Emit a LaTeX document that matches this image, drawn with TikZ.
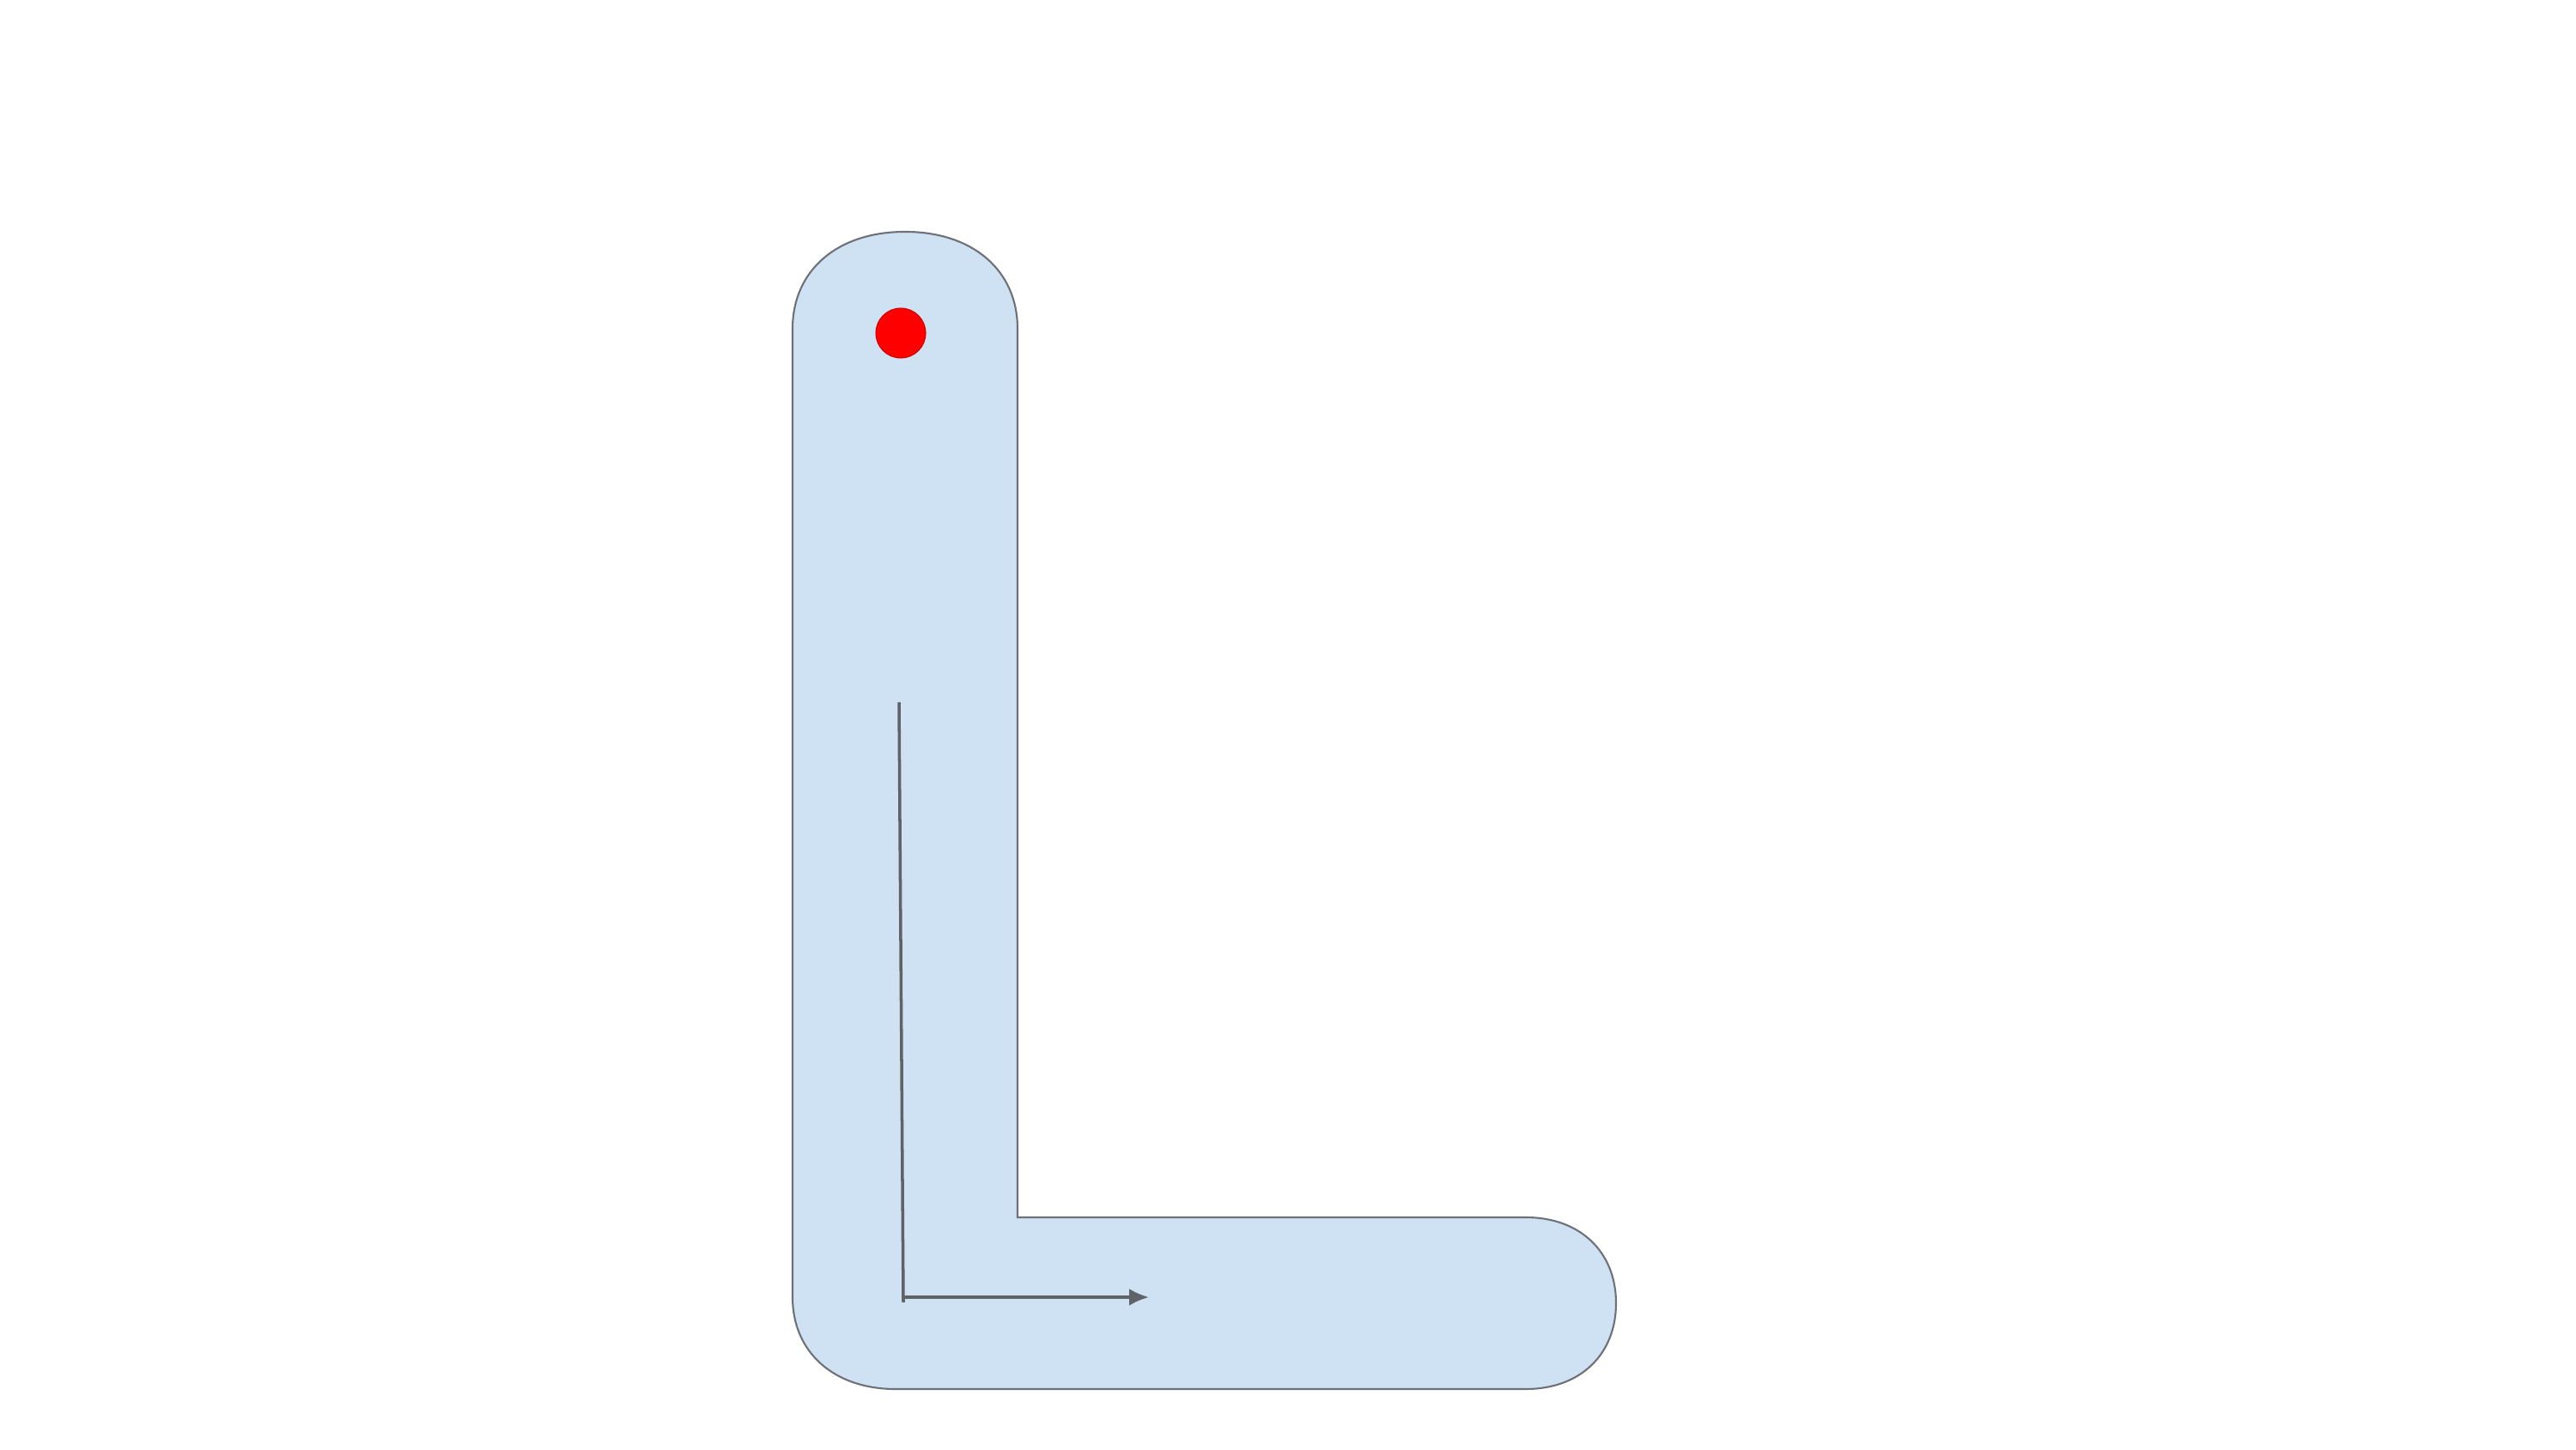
\documentclass[tikz,border=0pt]{standalone}
\usepackage{xcolor}
\definecolor{lfill}{RGB}{207,226,243}
\definecolor{lline}{RGB}{110,114,120}
\definecolor{arrowgray}{RGB}{95,99,104}
\usepackage{tikz}
\usetikzlibrary{positioning,arrows.meta}
\tikzset{
  lshape/.style  ={draw=lline,fill=lfill,line width=0.6pt},
  startdot/.style={circle,draw=red!80!black,fill=red,line width=0.3pt,
                   minimum size=5.8mm,inner sep=0pt},
  stroke/.style  ={draw=arrowgray,line width=1pt},
  flow/.style    ={-{Latex[length=2.3mm,width=2mm]},draw=arrowgray,line width=1pt},
}
\begin{document}
\begin{tikzpicture}
  \useasboundingbox (0,0) rectangle (30,16.88);
  % letter body
  \draw[lshape] (11.85,2.70) -- (17.77,2.70)
    .. controls (18.40,2.70) and (18.82,2.30) .. (18.82,1.70)
    .. controls (18.82,1.10) and (18.40,0.70) .. (17.77,0.70)
    -- (10.43,0.70)
    .. controls (9.71,0.70) and (9.23,1.13) .. (9.23,1.77)
    -- (9.23,13.05)
    .. controls (9.23,13.73) and (9.75,14.18) .. (10.54,14.18)
    .. controls (11.33,14.18) and (11.85,13.73) .. (11.85,13.05)
    -- cycle;
  % start point
  \node[startdot] (start) at (10.49,13.00) {};
  % stroke order
  \coordinate (vtop) at (10.47,8.70);
  \coordinate (vbot) at (10.52,1.71);
  \coordinate (hbeg) at (10.52,1.77);
  \coordinate (hend) at (13.38,1.77);
  \draw[stroke] (vtop) -- (vbot);
  \draw[flow] (hbeg) -- (hend);
\end{tikzpicture}
\end{document}
